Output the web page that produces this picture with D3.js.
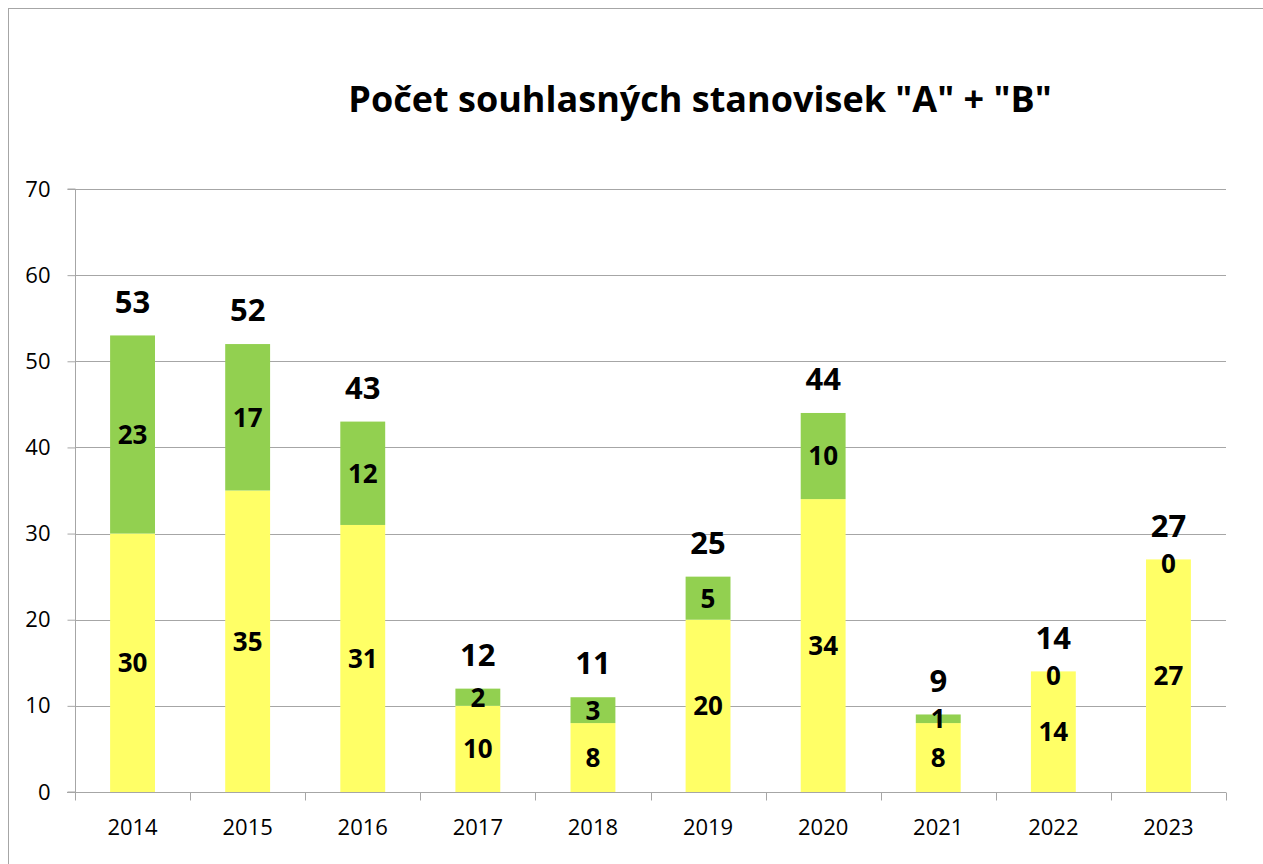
<!DOCTYPE html>
<html>
<head>
<meta charset="utf-8">
<script src="https://cdn.jsdelivr.net/npm/d3@7"></script>
<style>
  body { margin: 0; background: #fff; }
  svg { display: block; }
  text { font-family: "Open Sans", sans-serif; }
</style>
</head>
<body>
<svg id="chart" width="1263" height="864"></svg>
<script>
const title = 'Počet souhlasných stanovisek "A" + "B"';
const years = ["2014","2015","2016","2017","2018","2019","2020","2021","2022","2023"];
const seriesA = [30, 35, 31, 10, 8, 20, 34, 8, 14, 27];
const seriesB = [23, 17, 12, 2, 3, 5, 10, 1, 0, 0];
const yTicks = [0, 10, 20, 30, 40, 50, 60, 70];
const colors = { A: "#FFFF66", B: "#92D050" };

const svg = d3.select("#chart");
const W = 1263, H = 864;
const margin = { left: 75, right: 37, top: 189, bottom: 72 };

// chart border
svg.append("rect").attr("x", 8.5).attr("y", 8.5).attr("width", W + 20).attr("height", H + 20)
  .attr("fill", "#fff").attr("stroke", "#a6a6a6").attr("stroke-width", 1);

const x = d3.scaleBand().domain(years).range([margin.left, W - margin.right]).paddingInner(0.61).paddingOuter(0.305);
const xb = d3.scaleBand().domain(years).range([margin.left, W - margin.right]);
const y = d3.scaleLinear().domain([0, 70]).range([H - margin.bottom, margin.top]);

// gridlines
svg.append("g").selectAll("line").data(yTicks.filter(d => d > 0)).join("line")
  .attr("x1", margin.left).attr("x2", W - margin.right)
  .attr("y1", d => Math.round(y(d)) + 0.5).attr("y2", d => Math.round(y(d)) + 0.5)
  .attr("stroke", "#a6a6a6").attr("stroke-width", 1);

const data = years.map((yr, i) => ({ yr, a: seriesA[i], b: seriesB[i], t: seriesA[i] + seriesB[i] }));

// bars
const g = svg.append("g");
g.selectAll(".a").data(data).join("rect")
  .attr("x", d => x(d.yr)).attr("width", x.bandwidth())
  .attr("y", d => y(d.a)).attr("height", d => y(0) - y(d.a)).attr("fill", colors.A);
g.selectAll(".b").data(data).join("rect")
  .attr("x", d => x(d.yr)).attr("width", x.bandwidth())
  .attr("y", d => y(d.t)).attr("height", d => y(d.a) - y(d.t)).attr("fill", colors.B);

// axes
const yAxis = d3.axisLeft(y).tickValues(yTicks).tickSize(8).tickPadding(17);
const ya = svg.append("g").attr("transform", `translate(${margin.left + 0.5},0)`).call(yAxis);
ya.select(".domain").attr("stroke", "#a6a6a6").attr("d", `M-8,${y(70)}H0V${y(0)}H-8`);
ya.selectAll(".tick line").attr("stroke", "#a6a6a6");
ya.selectAll(".tick text").attr("font-size", 22).attr("fill", "#000").style("font-family", "'Open Sans', sans-serif");

const xAxisG = svg.append("g").attr("transform", `translate(0,${Math.round(y(0)) + 0.5})`);
xAxisG.append("line").attr("x1", margin.left - 8).attr("x2", W - margin.right).attr("stroke", "#a6a6a6");
const bounds = years.map(d => xb(d)).concat([W - margin.right]);
xAxisG.selectAll(".tk").data(bounds).join("line")
  .attr("x1", d => Math.round(d) + 0.5).attr("x2", d => Math.round(d) + 0.5)
  .attr("y1", 0).attr("y2", 8).attr("stroke", "#a6a6a6");
xAxisG.selectAll(".lbl").data(years).join("text")
  .attr("x", d => xb(d) + xb.bandwidth() / 2).attr("y", 42)
  .attr("text-anchor", "middle").attr("font-size", 22).attr("fill", "#000").text(d => d);

// segment labels
const lab = svg.append("g").attr("font-weight", "bold").attr("text-anchor", "middle").attr("fill", "#000");
lab.selectAll(".la").data(data).join("text")
  .attr("x", d => x(d.yr) + x.bandwidth() / 2).attr("y", d => y(d.a / 2)).attr("dy", "0.36em")
  .attr("font-size", 26).text(d => d.a);
lab.selectAll(".lb").data(data).join("text")
  .attr("x", d => x(d.yr) + x.bandwidth() / 2).attr("y", d => y(d.a + d.b / 2) + (d.b === 0 ? 4 : 0)).attr("dy", "0.36em")
  .attr("font-size", 26).text(d => d.b);
lab.selectAll(".lt").data(data).join("text")
  .attr("x", d => x(d.yr) + x.bandwidth() / 2).attr("y", d => y(d.t) - 34).attr("dy", "0.36em")
  .attr("font-size", 31).text(d => d.t);

// title
svg.append("text").attr("x", 700).attr("y", 112).attr("text-anchor", "middle")
  .attr("font-size", 36).attr("font-weight", "bold").attr("fill", "#000").text(title);
</script>
</body>
</html>
